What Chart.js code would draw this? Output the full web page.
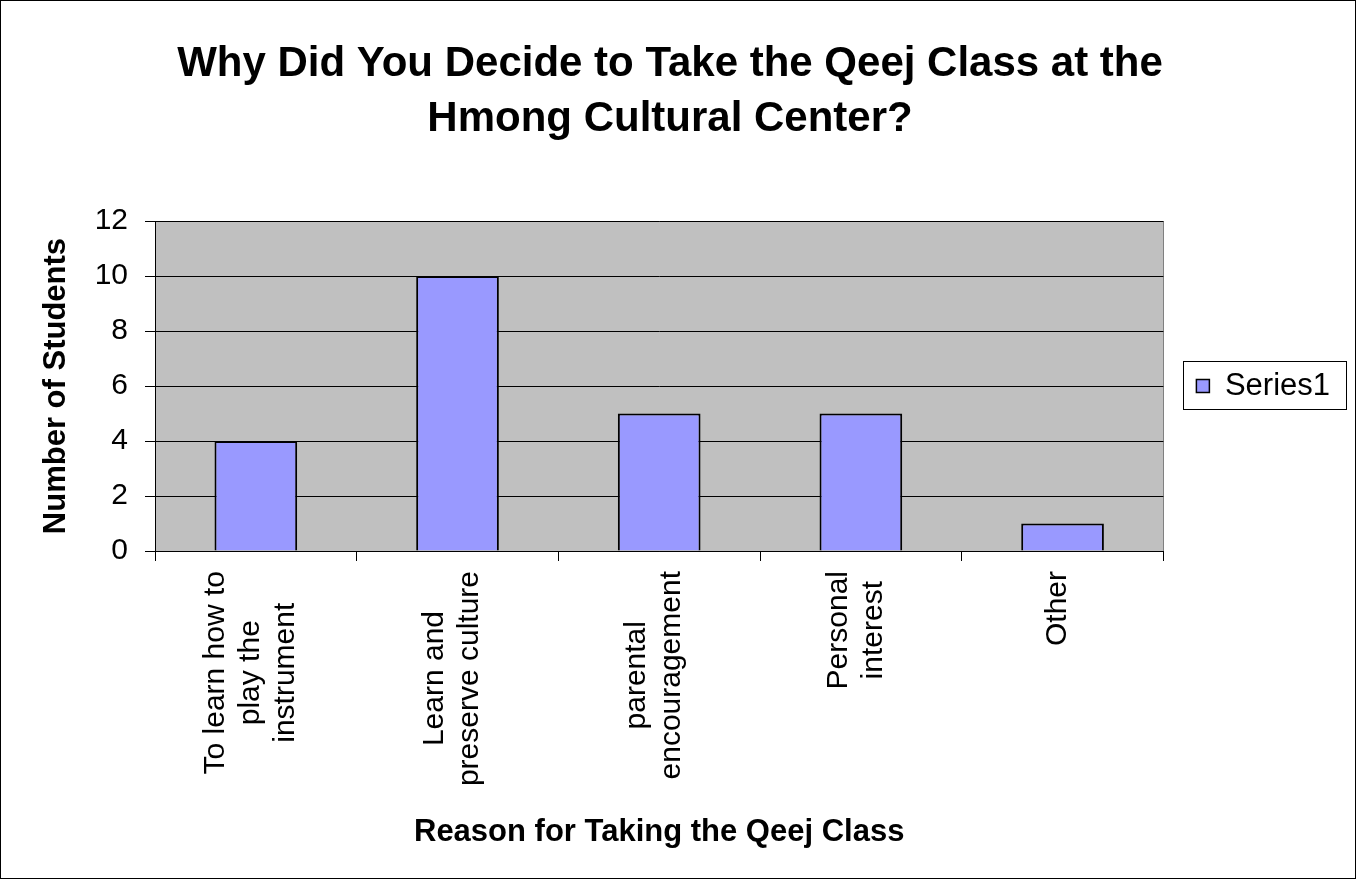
<!DOCTYPE html>
<html>
<head>
<meta charset="utf-8">
<script src="https://cdn.jsdelivr.net/npm/chart.js@4/dist/chart.umd.min.js"></script>
<style>
  html, body { margin: 0; padding: 0; background: #ffffff; }
  #wrap { width: 1356px; height: 879px; }
</style>
</head>
<body>
<div id="wrap"><canvas id="c" width="1356" height="879"></canvas></div>
<script>
// ---- data ----
const chartTitle = ["Why Did You Decide to Take the Qeej Class at the", "Hmong Cultural Center?"];
const categories = [
  ["To learn how to", "play the", "instrument"],
  ["Learn and", "preserve culture"],
  ["parental", "encouragement"],
  ["Personal", "interest"],
  ["Other"]
];
const seriesName = "Series1";
const studentCounts = [4, 10, 5, 5, 1];
const yAxisTitle = "Number of Students";
const xAxisTitle = "Reason for Taking the Qeej Class";
const yAxisMin = 0;
const yAxisMax = 12;
const yAxisStep = 2;

const FONT = '"Liberation Sans", Arial, Helvetica, sans-serif';
Chart.defaults.font.family = FONT;
Chart.defaults.color = '#000000';

// background, plot area and outer frame
const framePlugin = {
  id: 'framePlugin',
  beforeDraw(chart) {
    const {ctx, chartArea: a} = chart;
    ctx.save();
    ctx.fillStyle = '#ffffff';
    ctx.fillRect(0, 0, chart.width, chart.height);
    ctx.fillStyle = '#C0C0C0';
    ctx.fillRect(a.left, a.top, a.right - a.left, a.bottom - a.top);
    ctx.strokeStyle = '#808080';
    ctx.lineWidth = 1;
    ctx.strokeRect(Math.round(a.left) + 0.5, Math.round(a.top) + 0.5,
                   Math.round(a.right - a.left), Math.round(a.bottom - a.top));
    ctx.restore();
  },
  afterDraw(chart) {
    const {ctx} = chart;
    ctx.save();
    // legend frame
    const lg = chart.legend;
    if (lg && lg.options.display) {
      const pad = lg.options.labels.padding;
      const cy = (chart.chartArea.top + chart.chartArea.bottom) / 2;
      const l = Math.round(lg.left + pad - 13) + 0.5;
      const r = Math.round(lg.right - 10 + 16) + 0.5;
      const t = Math.round(cy - 25) + 0.5;
      const b = Math.round(cy + 23) + 0.5;
      ctx.strokeStyle = '#000000';
      ctx.lineWidth = 1;
      ctx.strokeRect(l, t, r - l, b - t);
    }
    // outer frame
    ctx.strokeStyle = '#000000';
    ctx.lineWidth = 1;
    ctx.strokeRect(0.5, 0.5, chart.width - 1, chart.height - 1);
    ctx.restore();
  }
};

// category labels: rotated, lines centered on each other, placed by the x scale
const xLabelPlugin = {
  id: 'xLabelPlugin',
  afterDraw(chart) {
    const xs = chart.scales.x;
    const ctx = chart.ctx;
    const LH = 35;
    ctx.save();
    ctx.font = '30px ' + FONT;
    ctx.fillStyle = '#000000';
    ctx.textAlign = 'center';
    ctx.textBaseline = 'middle';
    xs.getLabels().forEach((lab, i) => {
      const lines = Array.isArray(lab) ? lab : [lab];
      const w = Math.max(...lines.map(s => ctx.measureText(s).width));
      const cx = xs.getPixelForValue(i) - 5;
      const cy = xs.top + 20 + w / 2;
      ctx.save();
      ctx.translate(cx, cy);
      ctx.rotate(-Math.PI / 2);
      lines.forEach((s, j) => ctx.fillText(s, 0, (j - (lines.length - 1) / 2) * LH));
      ctx.restore();
    });
    ctx.restore();
  }
};

new Chart(document.getElementById('c'), {
  type: 'bar',
  data: {
    labels: categories,
    datasets: [{
      label: seriesName,
      data: studentCounts,
      backgroundColor: '#9999FF',
      borderColor: '#000000',
      borderWidth: 2,
      barPercentage: 0.41,
      categoryPercentage: 1.0
    }]
  },
  options: {
    responsive: false,
    devicePixelRatio: 1,
    animation: false,
    layout: { padding: { left: 0, right: 16, top: 0, bottom: 0 } },
    plugins: {
      title: {
        display: true,
        text: chartTitle,
        color: '#000000',
        font: { size: 42, weight: 'bold', lineHeight: 1.31 },
        padding: { top: 37, bottom: 74 }
      },
      legend: {
        display: true,
        position: 'right',
        fullSize: false,
        align: 'center',
        labels: {
          boxWidth: 13,
          boxHeight: 13,
          padding: 33,
          color: '#000000',
          font: { size: 31 },
          generateLabels(chart) {
            const items = Chart.defaults.plugins.legend.labels.generateLabels(chart);
            items.forEach(it => { it.lineWidth = 1.5; it.strokeStyle = '#000000'; });
            return items;
          }
        }
      },
      tooltip: { enabled: false }
    },
    scales: {
      x: {
        type: 'category',
        offset: true,
        grid: {
          offset: true,
          drawOnChartArea: false,
          drawTicks: true,
          tickLength: 10,
          color: '#000000',
          lineWidth: 1
        },
        border: { display: true, color: '#000000', width: 1 },
        ticks: { display: false },
        title: {
          display: true,
          text: xAxisTitle,
          color: '#000000',
          font: { size: 31, weight: 'bold' },
          padding: { top: 0, bottom: 28 }
        },
        afterFit(scale) { scale.height = 328; }
      },
      y: {
        min: yAxisMin,
        max: yAxisMax,
        grid: {
          drawOnChartArea: true,
          drawTicks: true,
          tickLength: 10,
          color: '#000000',
          lineWidth: 1
        },
        border: { display: true, color: '#000000', width: 1 },
        ticks: {
          stepSize: yAxisStep,
          padding: 17,
          color: '#000000',
          font: { size: 30 }
        },
        title: {
          display: true,
          text: yAxisTitle,
          color: '#000000',
          font: { size: 31, weight: 'bold' },
          padding: { top: 38, bottom: 0 }
        },
        afterFit(scale) { scale.width = 155; }
      }
    }
  },
  plugins: [framePlugin, xLabelPlugin]
});
</script>
</body>
</html>
